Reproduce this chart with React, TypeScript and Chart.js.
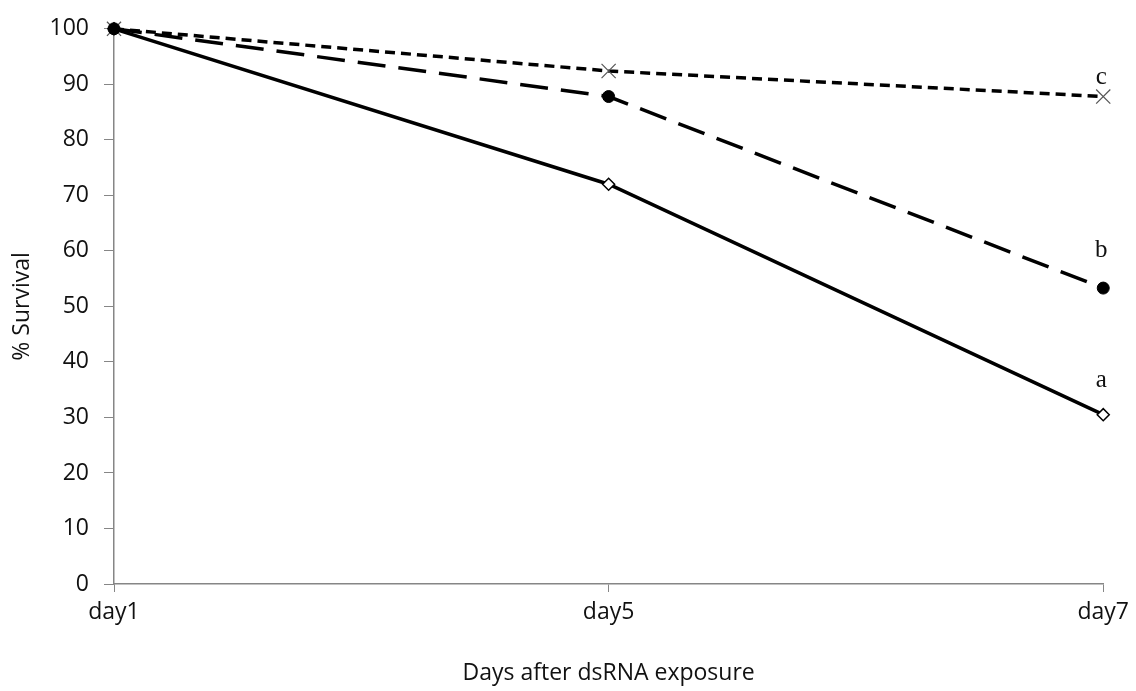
import React, { useEffect, useRef } from "react";
import { Chart, registerables } from "chart.js";

Chart.register(...registerables);

const categories = ["day1", "day5", "day7"];
const seriesA = [100, 72, 30.5];
const seriesB = [100, 87.8, 53.3];
const seriesC = [100, 92.4, 87.8];
const groupLetters = ["a", "b", "c"];
const yTicks = [0, 10, 20, 30, 40, 50, 60, 70, 80, 90, 100];

const AXIS = "#868686";
const TEXT = "#111";
const FONT = "'Open Sans', 'Noto Sans', sans-serif";

const letterPlugin = {
  id: "groupLetters",
  afterDatasetsDraw(chart: any) {
    const ctx = chart.ctx;
    const offsets = [34, 38, 19];
    ctx.save();
    ctx.font = "25px 'Liberation Serif', 'DejaVu Serif', serif";
    ctx.fillStyle = "#111";
    ctx.textAlign = "center";
    ctx.textBaseline = "middle";
    chart.data.datasets.forEach((_: any, i: number) => {
      const meta = chart.getDatasetMeta(i);
      const pt = meta.data[meta.data.length - 1];
      if (!pt) return;
      ctx.fillText(groupLetters[i], pt.x - 2, pt.y - offsets[i]);
    });
    ctx.restore();
  },
};

export default function App() {
  const ref = useRef<HTMLCanvasElement | null>(null);

  useEffect(() => {
    if (!ref.current) return;
    const chart = new Chart(ref.current, {
      type: "line",
      data: {
        labels: categories,
        datasets: [
          {
            label: "a",
            data: seriesA,
            order: 1,
            borderColor: "#000",
            borderWidth: 3.5,
            pointStyle: "rectRot",
            pointRadius: 6,
            pointBackgroundColor: "#fff",
            pointBorderColor: "#000",
            pointBorderWidth: 1.5,
            tension: 0,
            clip: false as any,
          },
          {
            label: "b",
            data: seriesB,
            order: 0,
            borderColor: "#000",
            borderWidth: 3.5,
            borderDash: [28, 13],
            pointStyle: "circle",
            pointRadius: 6,
            pointBackgroundColor: "#000",
            pointBorderColor: "#000",
            pointBorderWidth: 1,
            tension: 0,
            clip: false as any,
          },
          {
            label: "c",
            data: seriesC,
            order: 2,
            borderColor: "#000",
            borderWidth: 3.5,
            borderDash: [10, 6],
            pointStyle: "crossRot",
            pointRadius: 10,
            pointBackgroundColor: "#555",
            pointBorderColor: "#555",
            pointBorderWidth: 1.2,
            tension: 0,
            clip: false as any,
          },
        ],
      },
      options: {
        animation: false,
        responsive: true,
        maintainAspectRatio: false,
        layout: { padding: { top: 22, right: 32, left: 0, bottom: 0 } },
        plugins: {
          legend: { display: false },
          tooltip: { enabled: false },
        },
        scales: {
          x: {
            type: "category",
            offset: false,
            grid: {
              display: true,
              drawOnChartArea: false,
              drawTicks: true,
              tickLength: 8,
              color: AXIS,
            },
            border: { color: AXIS, width: 1.5 },
            ticks: {
              color: TEXT,
              font: { family: FONT, size: 23 },
              padding: 7,
              maxRotation: 0,
            },
            title: {
              display: true,
              text: "Days after dsRNA exposure",
              color: TEXT,
              font: { family: FONT, size: 23 },
              padding: { top: 0, bottom: 4 },
            },
            afterFit: (s: any) => {
              s.height = 107;
            },
          },
          y: {
            min: 0,
            max: 100,
            afterBuildTicks: (s: any) => {
              s.ticks = yTicks.map((v) => ({ value: v }));
            },
            grid: {
              display: true,
              drawOnChartArea: false,
              drawTicks: true,
              tickLength: 10,
              color: AXIS,
            },
            border: { color: AXIS, width: 1.5 },
            ticks: {
              color: TEXT,
              font: { family: FONT, size: 23 },
              padding: 15,
            },
            title: {
              display: true,
              text: "% Survival",
              color: TEXT,
              font: { family: FONT, size: 23 },
              padding: { top: 9, bottom: 0 },
            },
            afterFit: (s: any) => {
              s.width = 114;
            },
          },
        },
      },
      plugins: [letterPlugin],
    });
    return () => chart.destroy();
  }, []);

  return (
    <div style={{ position: "fixed", left: 0, top: 0, width: 1136, height: 691, background: "#fff" }}>
      <canvas ref={ref} />
    </div>
  );
}
